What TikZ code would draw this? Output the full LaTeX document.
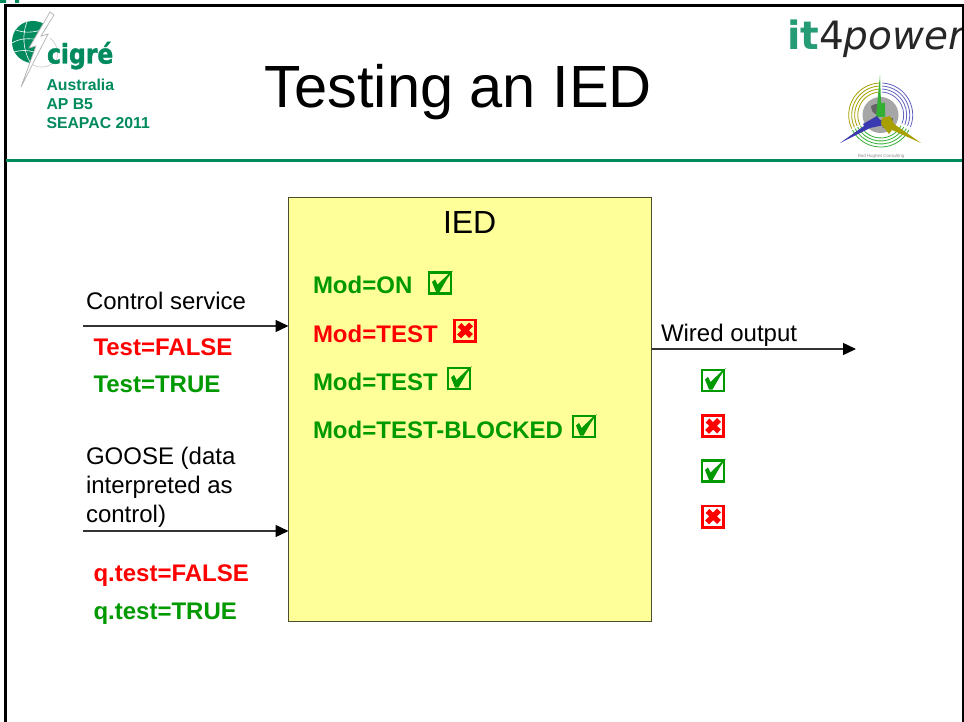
\documentclass[tikz,border=0pt]{standalone}
\usepackage{fontspec}
\setmainfont{Liberation Sans}
\newfontfamily\logofont{DejaVu Sans}
\newfontfamily\cigrefont[FakeBold=1.6]{DejaVu Sans Bold}
\definecolor{brandgreen}{HTML}{008A5E}
\definecolor{okgreen}{HTML}{009900}
\definecolor{badred}{HTML}{FF0000}
\definecolor{iedfill}{HTML}{FFFF99}
\definecolor{bladeblue}{HTML}{3A3AB0}
\definecolor{bladeolive}{HTML}{A8A000}
\definecolor{bladegreen}{HTML}{33B033}
\usetikzlibrary{arrows.meta}
\tikzset{
  x=1pt,y=-1pt,
  every node/.style={inner sep=0pt,outer sep=0pt,anchor=base west},
  body/.style={font=\fontsize{24}{27}\selectfont,text=black},
  good/.style={font=\fontsize{24}{27}\selectfont\bfseries,text=okgreen},
  bad/.style={font=\fontsize{24}{27}\selectfont\bfseries,text=badred},
  brand/.style={font=\fontsize{15.8}{19}\selectfont\bfseries,text=brandgreen},
  wire/.style={draw=black!80,line width=1.4pt,-{Triangle[length=13pt,width=12pt,black]}},
  okbox/.pic={
    \draw[okgreen,line width=2.4pt] (-10.8,-10.5) rectangle (10.8,10.5);
    \fill[okgreen] (-8,-1) -- (-5,-3.5) -- (-2.5,1.5) -- (9,-9.5) -- (13,-12.5) -- (7,-4) -- (-0.5,9) -- (-4,9) -- cycle;
  },
  nobox/.pic={
    \draw[badred,line width=2.6pt] (-10.7,-10.7) rectangle (10.7,10.7);
    \draw[badred,line width=5.4pt] (-5.5,-5.5) -- (6,5.5) (6,-6) -- (-6,6);
  },
}
\begin{document}
\begin{tikzpicture}
\useasboundingbox (0,0) rectangle (964,722);
% frame
\fill[white] (0,0) rectangle (964,722);
\fill[brandgreen] (0,0) rectangle (6,3) (15,0) rectangle (19,3);
\draw[black,line width=2.4pt] (5.5,722) -- (5.5,5.5) -- (962.7,5.5) -- (962.7,722);
\draw[brandgreen,line width=2.8pt] (6,160.5) -- (962,160.5);

% cigre logo
\fill[brandgreen] (12,42) .. controls (12,30) and (21,21) .. (33,21) .. controls (39,21) and (44,23) .. (47,27) -- (36,42) -- (44,40) -- (30,63) .. controls (20,61) and (12,53) .. (12,42) -- cycle;
\draw[white,line width=.6pt] (12,43) .. controls (20,38) and (30,38) .. (40,40) (16,30) .. controls (24,33) and (34,33) .. (44,29) (27,22) .. controls (22,34) and (23,50) .. (30,62) (14,52) .. controls (20,50) and (28,50) .. (34,52);
\filldraw[draw=black!30,fill=white,line width=.7pt] (50,12) -- (54,15) -- (41,36) -- (48,34) -- (21,87) -- (36,46) -- (29,48) -- cycle;
\draw[black!25,line width=.5pt] (50,38) .. controls (60,46) and (60,60) .. (52,64) .. controls (46,68) and (38,68) .. (33,65);
\node[font=\cigrefont\fontsize{27}{27}\selectfont,text=brandgreen,xscale=.87] (cigre) at (47,63.5) {cigré};
\node[brand] (l1) at (46.5,91) {Australia};
\node[brand] (l2) at (46.5,110) {AP B5};
\node[brand] (l3) at (46.5,129) {SEAPAC 2011};

% title
\node[font=\fontsize{59.6}{64}\selectfont,text=black] (title) at (264.5,108) {Testing an IED};

% it4power
\begin{scope}
\clip (0,0) rectangle (961.5,722);
\node[font=\logofont\fontsize{39}{39}\selectfont\bfseries,text=brandgreen!85] (it) at (787,50) {it};
\node[font=\logofont\fontsize{39}{39}\selectfont,text=black!85] (four) at (it.base east) {4};
\node[font=\logofont\fontsize{39}{39}\selectfont\itshape,text=black!85] (power) at (four.base east) {power};
\end{scope}

% Rod Hughes logo
\fill[black!35] (880.5,115) circle (18);
\fill[black!60] (871,106) .. controls (876,102) and (882,104) .. (881,110) .. controls (878,116) and (872,116) .. (871,106) -- cycle;
\fill[black!60] (880,120) -- (893,118) -- (892,127) -- (883,128) -- cycle;
\begin{scope}[shift={(880.7,115)},y=1pt]
\foreach \r in {23,26,29,32}{
  \draw[bladeolive,line width=.8pt] (93:\r pt) arc[start angle=93,end angle=205,radius=\r pt];
  \draw[bladeblue!80,line width=.8pt] (87:\r pt) arc[start angle=87,end angle=-22,radius=\r pt];
  \draw[bladegreen,line width=.8pt] (-152:\r pt) arc[start angle=-152,end angle=-28,radius=\r pt];
}
\end{scope}
\fill[bladegreen] (880,75) -- (877,106) -- (876,117) -- (885,117) -- (885,103) -- (881,103) -- cycle;
\fill[bladeblue] (877,116) -- (884,125) -- (870,128) -- (840,143) -- (864,126) -- (863,124) -- cycle;
\fill[bladeolive] (882,118) -- (890,116) -- (894,124) -- (921,143) -- (892,130) -- (889,134) -- (881,124) -- cycle;
\node[font=\fontsize{4.4}{5}\selectfont,text=black!45,anchor=base] (rod) at (881,157.5) {Rod Hughes Consulting};

% IED
\node[draw=black!70!iedfill,fill=iedfill,line width=1pt,minimum width=363pt,minimum height=424pt,anchor=north west] (ied) at (288.5,197.5) {};
\node[font=\fontsize{32}{34}\selectfont,text=black] (iedt) at (443,234) {IED};

\node[good] (m1) at (313,294) {Mod=ON};
\pic at (440,283) {okbox};
\node[bad] (m2) at (313,342) {Mod=TEST};
\pic at (465,330.5) {nobox};
\node[good] (m3) at (313,390) {Mod=TEST};
\pic at (459,378.5) {okbox};
\node[good] (m4) at (313,438) {Mod=TEST-BLOCKED};
\pic at (584,426.5) {okbox};

% inputs
\coordinate (csin) at (83,326);
\coordinate (csout) at (ied.west |- csin);
\draw[wire] (csin) -- (csout);
\node[body] (cs) at (86,309) {Control service};
\node[bad] (t1) at (93.5,355) {Test=FALSE};
\node[good] (t2) at (93.5,392) {Test=TRUE};

\coordinate (gsin) at (83,531);
\coordinate (gsout) at (ied.west |- gsin);
\draw[wire] (gsin) -- (gsout);
\node[body] (g1) at (86,464) {GOOSE (data};
\node[body] (g2) at (86,493) {interpreted as};
\node[body] (g3) at (86,522) {control)};
\node[bad] (q1) at (93.5,581) {q.test=FALSE};
\node[good] (q2) at (93.5,619) {q.test=TRUE};

% output
\coordinate (wo) at (856,349);
\coordinate (wi) at (ied.east |- wo);
\draw[wire] (wi) -- (wo);
\node[body] (w) at (661,341) {Wired output};
\pic at (713,380.5) {okbox};
\pic at (713,426) {nobox};
\pic at (713,471) {okbox};
\pic at (713,516.5) {nobox};
\end{tikzpicture}
\end{document}
